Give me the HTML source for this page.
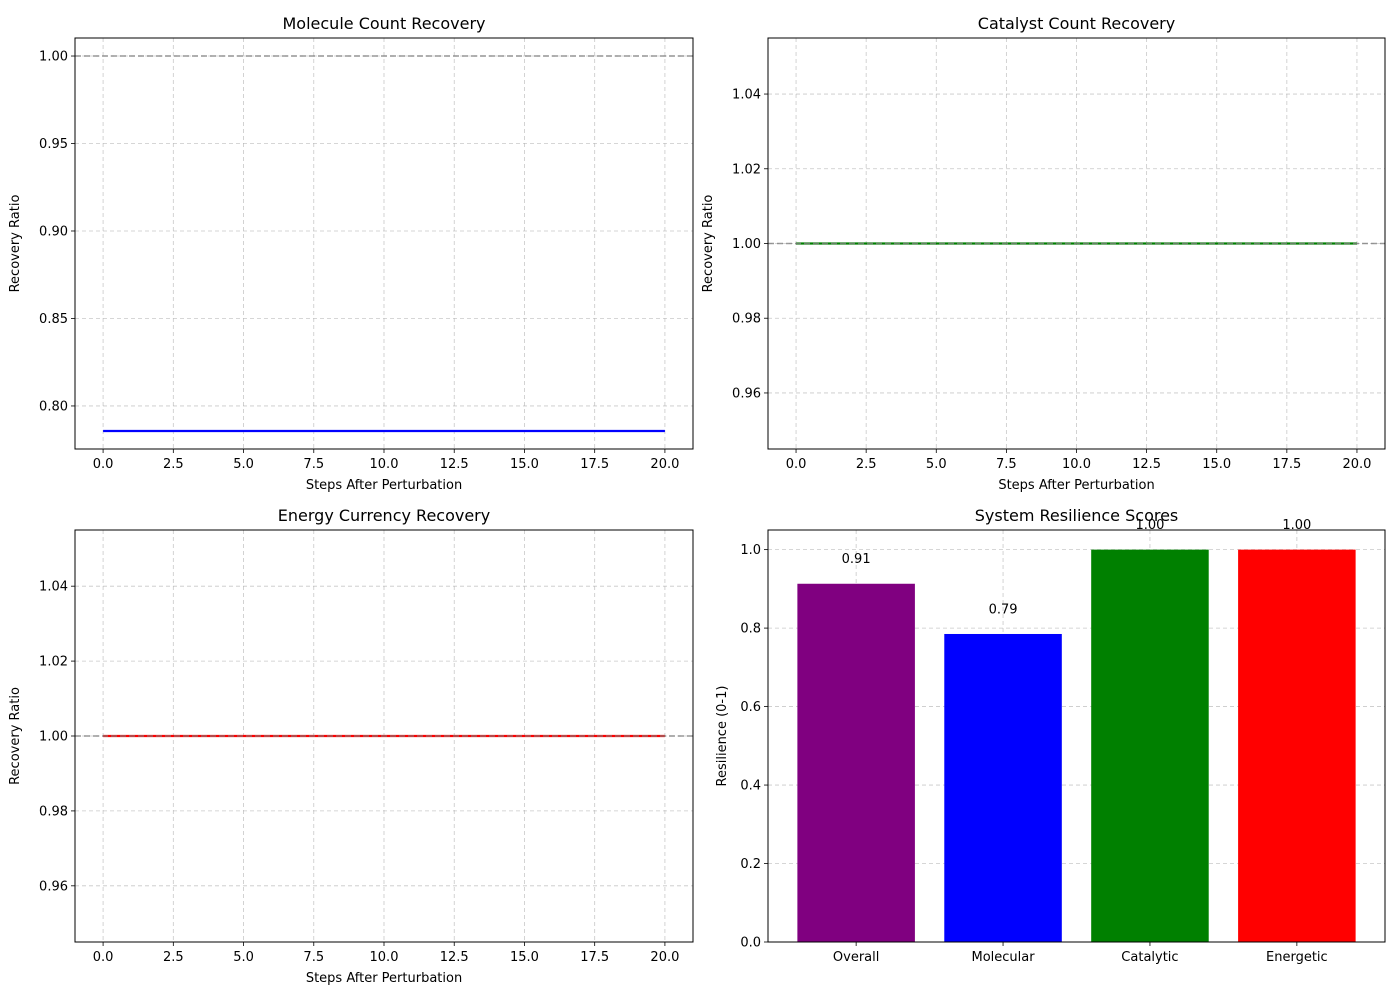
<!DOCTYPE html>
<html><head><meta charset="utf-8"><style>
body{margin:0;background:#fff;width:1400px;height:1000px;overflow:hidden}
svg text{font-family:"DejaVu Sans","Liberation Sans",sans-serif;fill:#000}
</style></head><body>
<svg id="chart" width="1400" height="1000" xmlns="http://www.w3.org/2000/svg"></svg>
<script>
const steps = [0,20];
const moleculeSeries = [0.7857,0.7857];
const catalystSeries = [1.0,1.0];
const energySeries = [1.0,1.0];
const xTicks = [0,2.5,5,7.5,10,12.5,15,17.5,20];
const xTickLabels = ["0.0","2.5","5.0","7.5","10.0","12.5","15.0","17.5","20.0"];
const molYTicks = [0.80,0.85,0.90,0.95,1.00];
const unitYTicks = [0.96,0.98,1.00,1.02,1.04];
const barCategories = ["Overall","Molecular","Catalytic","Energetic"];
const barValues = [0.913,0.785,1.0,1.0];
const barLabels = ["0.91","0.79","1.00","1.00"];
const barColors = ["#800080","#0000ff","#008000","#ff0000"];
const barYTicks = [0,0.2,0.4,0.6,0.8,1.0];

const svg = document.getElementById('chart');
const NS = 'http://www.w3.org/2000/svg';
function el(tag, attrs, parent){const e=document.createElementNS(NS,tag);for(const k in attrs)e.setAttribute(k,attrs[k]);(parent||svg).appendChild(e);return e;}
function txt(s, attrs, parent){const t=el('text',attrs,parent);t.textContent=s;return t;}

function panel(p){
  const g=el('g',{});
  
  
  const sx=v=>p.L+(v-p.x0)/(p.x1-p.x0)*(p.R-p.L);
  const sy=v=>p.B-(v-p.y0)/(p.y1-p.y0)*(p.B-p.T);
  p.xt.forEach((v,i)=>{
    const x=sx(v);
    const gl=el('line',{x1:x,x2:x,y1:p.T,y2:p.B,stroke:'#b0b0b0','stroke-width':0.8,'stroke-dasharray':'4,3','stroke-opacity':0.7},g);
    
    
    el('line',{x1:x,x2:x,y1:p.B,y2:p.B+4,stroke:'#000','stroke-width':0.8},g);
    const t=txt(p.xl[i],{x:x,y:p.B+19,'font-size':13,'text-anchor':'middle'},g);
    
    
  });
  p.yt.forEach(v=>{
    const y=sy(v);
    const gl=el('line',{x1:p.L,x2:p.R,y1:y,y2:y,stroke:'#b0b0b0','stroke-width':0.8,'stroke-dasharray':'4,3','stroke-opacity':0.7},g);
    
    
    el('line',{x1:p.L-4,x2:p.L,y1:y,y2:y,stroke:'#000','stroke-width':0.8},g);
    const t=txt(p.yfmt(v),{x:p.L-7,y:y+4.5,'font-size':13,'text-anchor':'end'},g);
    
    
  });
  if(p.series){
    const pts=p.xs.map((x,i)=>sx(x)+','+sy(p.series[i])).join(' ');
    const l=el('polyline',{points:pts,fill:'none',stroke:p.color,'stroke-width':2.2},g);
    
    
  }
  if(p.ref!==undefined){
    const r=el('line',{x1:p.L,x2:p.R,y1:sy(p.ref),y2:sy(p.ref),stroke:'#808080','stroke-width':1.5,'stroke-dasharray':'6,3','stroke-opacity':0.8},g);
    
    
  }
  if(p.bars){
    const w=0.8*(p.R-p.L)/(p.x1-p.x0);
    p.bars.forEach((v,i)=>{
      const b=el('rect',{x:sx(i)-w/2,y:sy(v),width:w,height:sy(0)-sy(v),fill:barColors[i]},g);
      
      
      const t=txt(barLabels[i],{x:sx(i),y:sy(v+0.05)-1,'font-size':13,'text-anchor':'middle'},g);
      
      
    });
  }
  const f=el('rect',{x:p.L,y:p.T,width:p.R-p.L,height:p.B-p.T,fill:'none',stroke:'#000','stroke-width':1},g);
  
  
  const ti=txt(p.title,{x:(p.L+p.R)/2,y:p.T-9,'font-size':16,'text-anchor':'middle'},g);
  
  
  if(p.xlabel){
    const xl=txt(p.xlabel,{x:(p.L+p.R)/2,y:p.B+40,'font-size':13,'text-anchor':'middle'},g);
    
    
  }
  const cy=(p.T+p.B)/2;
  const yl=txt(p.ylabel,{x:p.L-p.yoff,y:cy,'font-size':13,'text-anchor':'middle',transform:`rotate(-90 ${p.L-p.yoff} ${cy})`},g);
  
  
}
const f2=v=>v.toFixed(2), f1=v=>v.toFixed(1);
panel({name:'molecule-recovery-panel',L:75,R:693,T:38,B:449,x0:-1,x1:21,y0:0.7754,y1:1.0103,xt:xTicks,xl:xTickLabels,yt:molYTicks,yfmt:f2,ref:1.0,xs:steps,series:moleculeSeries,color:'#0000ff',lineName:'molecule-line',title:'Molecule Count Recovery',xlabel:'Steps After Perturbation',ylabel:'Recovery Ratio',yoff:56});
panel({name:'catalyst-recovery-panel',L:768,R:1385,T:38,B:449,x0:-1,x1:21,y0:0.945,y1:1.055,xt:xTicks,xl:xTickLabels,yt:unitYTicks,yfmt:f2,ref:1.0,xs:steps,series:catalystSeries,color:'#008000',lineName:'catalyst-line',title:'Catalyst Count Recovery',xlabel:'Steps After Perturbation',ylabel:'Recovery Ratio',yoff:56});
panel({name:'energy-recovery-panel',L:75,R:693,T:530,B:942,x0:-1,x1:21,y0:0.945,y1:1.055,xt:xTicks,xl:xTickLabels,yt:unitYTicks,yfmt:f2,ref:1.0,xs:steps,series:energySeries,color:'#ff0000',lineName:'energy-line',title:'Energy Currency Recovery',xlabel:'Steps After Perturbation',ylabel:'Recovery Ratio',yoff:56});
panel({name:'resilience-scores-panel',L:768,R:1385,T:530,B:942,x0:-0.6,x1:3.6,y0:0,y1:1.05,xt:[0,1,2,3],xl:barCategories,yt:barYTicks,yfmt:f1,bars:barValues,title:'System Resilience Scores',ylabel:'Resilience (0-1)',yoff:42});
</script>
</body></html>
